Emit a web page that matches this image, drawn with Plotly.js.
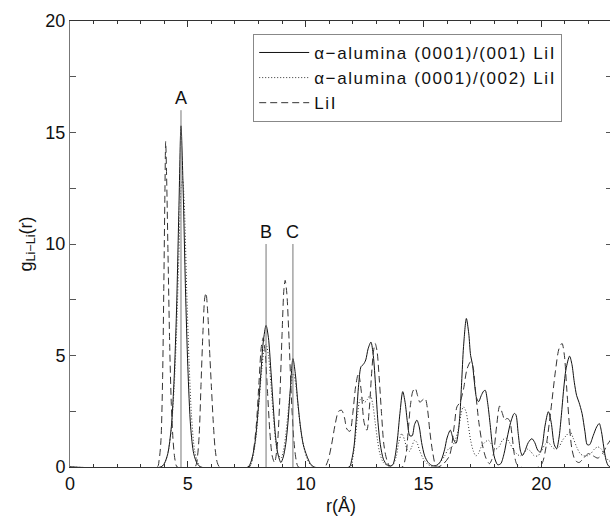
<!DOCTYPE html>
<html>
<head>
<meta charset="utf-8">
<script src="https://cdn.plot.ly/plotly-3.0.1.min.js"></script>
<style>
html,body{margin:0;padding:0;overflow:hidden;background:#fff;}
#chart{width:612px;height:519px;}
.legendtext{letter-spacing:1.6px;}
</style>
</head>
<body>
<div id="chart"></div>
<script>
// ---- data ----
var seriesNames = ['α−alumina (0001)/(001) LiI', 'α−alumina (0001)/(002) LiI', 'LiI'];

var r001 = [0, 3.85, 4.0, 4.15, 4.3, 4.42, 4.52, 4.62, 4.71, 4.80, 4.90, 5.0, 5.12, 5.25, 5.4, 5.55,
  7.55, 7.7, 7.85, 7.98, 8.1, 8.2, 8.32, 8.42, 8.52, 8.62, 8.72, 8.82, 8.95, 9.05, 9.15, 9.25, 9.35, 9.46, 9.56, 9.66, 9.78, 9.9, 10.05, 10.2, 10.35,
  11.85, 11.95, 12.05, 12.15, 12.25, 12.35, 12.45, 12.55, 12.65, 12.77, 12.87, 12.97, 13.07, 13.17, 13.3, 13.45, 13.6,
  13.7, 13.8, 13.9, 14.0, 14.12, 14.22, 14.32, 14.42, 14.52, 14.62, 14.72, 14.82, 14.92, 15.05, 15.2, 15.4, 15.6,
  15.75, 15.9, 16.0, 16.14, 16.25, 16.38, 16.47, 16.55, 16.62, 16.7, 16.82, 16.92, 17.0, 17.08, 17.16, 17.25, 17.34, 17.45, 17.55, 17.62, 17.72, 17.82, 17.92, 18.02, 18.15,
  18.28, 18.42, 18.55, 18.7, 18.85, 18.92, 19.02, 19.12, 19.2, 19.3, 19.45, 19.6, 19.72, 19.85, 19.95, 20.05, 20.15, 20.3, 20.42, 20.55, 20.65, 20.75, 20.85, 20.95, 21.05, 21.2, 21.3, 21.4, 21.5, 21.6, 21.73, 21.85, 21.95, 22.05, 22.2, 22.35, 22.46, 22.55, 22.65, 22.75, 22.85, 23];
var g001 = [0, 0, 0.15, 0.6, 1.8, 4.0, 7.0, 11.5, 15.3, 12.5, 8.0, 4.5, 1.8, 0.6, 0.15, 0,
  0, 0.3, 1.1, 2.5, 4.2, 5.6, 6.35, 5.8, 4.4, 2.8, 1.4, 0.6, 0.2, 0.45, 1.0, 2.0, 3.5, 4.86, 4.2, 3.0, 1.8, 1.0, 0.5, 0.15, 0,
  0, 0.3, 0.9, 2.2, 3.7, 4.5, 4.6, 4.8, 5.3, 5.6, 5.0, 3.6, 2.0, 1.0, 0.35, 0.1, 0.05,
  0.1, 0.5, 1.3, 2.4, 3.38, 2.9, 2.0, 1.4, 1.4, 1.9, 2.1, 1.8, 1.1, 0.5, 0.2, 0.05, 0.1,
  0.3, 0.8, 1.3, 1.65, 1.3, 1.06, 1.5, 2.4, 3.8, 5.4, 6.66, 6.0, 5.0, 4.6, 3.8, 3.1, 2.93, 3.2, 3.4, 3.44, 2.9, 2.0, 1.0, 0.4, 0.1,
  0.15, 0.6, 1.3, 2.0, 2.4, 2.35, 1.5, 0.7, 0.52, 0.7, 1.1, 1.27, 1.1, 0.75, 0.67, 1.0, 1.8, 2.48, 2.0, 1.0, 0.82, 1.3, 2.3, 3.5, 4.4, 4.97, 4.6, 3.8, 3.2, 2.9, 2.4, 1.6, 1.0, 1.0, 1.4, 1.8, 1.95, 1.6, 0.9, 0.3, 0.05, 0];

var r002 = [0, 3.85, 4.0, 4.15, 4.3, 4.42, 4.52, 4.62, 4.72, 4.78, 4.86, 4.95, 5.05, 5.15, 5.28, 5.42, 5.55,
  7.6, 7.75, 7.9, 8.02, 8.14, 8.24, 8.32, 8.42, 8.52, 8.62, 8.72, 8.82, 8.95, 9.05, 9.15, 9.25, 9.35, 9.48, 9.58, 9.68, 9.8, 9.92, 10.05, 10.2, 10.35,
  11.9, 12.0, 12.1, 12.2, 12.3, 12.4, 12.5, 12.6, 12.74, 12.85, 12.95, 13.05, 13.15, 13.3, 13.5,
  13.7, 13.85, 13.95, 14.08, 14.2, 14.3, 14.4, 14.5, 14.62, 14.72, 14.85, 15.0, 15.15, 15.3, 15.5,
  15.7, 15.9, 16.05, 16.2, 16.35, 16.5, 16.6, 16.69, 16.8, 16.9, 17.0, 17.12, 17.22, 17.33, 17.45, 17.6, 17.75, 17.9, 18.05, 18.2, 18.35, 18.5, 18.65, 18.8, 18.95,
  19.1, 19.25, 19.4, 19.55, 19.7, 19.85, 20.0, 20.15, 20.3, 20.45, 20.6, 20.75, 20.9, 21.05, 21.23, 21.35, 21.5, 21.65, 21.8, 21.95, 22.1, 22.25, 22.4, 22.55, 22.7, 22.85, 23];
var g002 = [0, 0, 0.15, 0.6, 1.7, 3.6, 6.0, 9.5, 12.6, 12.9, 11.5, 8.0, 4.8, 2.4, 0.8, 0.2, 0,
  0, 0.4, 1.4, 2.9, 4.4, 5.3, 5.5, 5.0, 3.8, 2.4, 1.2, 0.6, 0.4, 0.7, 1.4, 2.4, 3.4, 4.2, 3.7, 2.7, 1.6, 0.9, 0.4, 0.1, 0,
  0, 0.4, 1.2, 2.3, 3.0, 3.1, 2.9, 3.0, 3.23, 2.8, 2.0, 1.2, 0.6, 0.2, 0.05,
  0.1, 0.5, 1.1, 1.5, 1.2, 0.8, 0.7, 0.9, 1.2, 1.1, 0.7, 0.35, 0.15, 0.05, 0.05,
  0.2, 0.5, 0.8, 0.9, 1.2, 1.8, 2.4, 2.7, 2.5, 1.9, 1.2, 0.7, 0.5, 0.6, 0.9, 1.1, 1.2, 1.0, 0.8, 0.9, 1.2, 1.3, 1.1, 0.8, 0.6,
  0.5, 0.6, 0.8, 0.7, 0.5, 0.5, 0.7, 1.0, 1.1, 0.9, 0.8, 0.9, 1.2, 1.4, 1.58, 1.3, 0.9, 0.6, 0.5, 0.5, 0.6, 0.8, 0.9, 0.8, 0.5, 0.3, 0.2];

var rLiI = [0, 3.7, 3.78, 3.86, 3.93, 3.98, 4.03, 4.06, 4.1, 4.16, 4.23, 4.3, 4.38, 4.46, 4.55,
  5.3, 5.4, 5.48, 5.56, 5.64, 5.72, 5.77, 5.84, 5.92, 6.0, 6.08, 6.16, 6.25, 6.35,
  7.6, 7.75, 7.9, 8.02, 8.12, 8.2, 8.28, 8.38, 8.48, 8.58, 8.68, 8.8, 8.9, 9.0, 9.08, 9.13, 9.2, 9.3, 9.4, 9.5, 9.6, 9.7,
  10.8, 10.95, 11.1, 11.25, 11.4, 11.53, 11.65, 11.75, 11.88, 12.0, 12.12, 12.24, 12.36, 12.48, 12.6, 12.7, 12.8, 12.88, 12.95, 13.03, 13.12, 13.22, 13.32, 13.45, 13.6,
  14.1, 14.25, 14.35, 14.45, 14.55, 14.65, 14.75, 14.85, 14.95, 15.07, 15.17, 15.27, 15.4, 15.55,
  15.8, 16.1, 16.3, 16.42, 16.55, 16.7, 16.85, 17.0, 17.1, 17.2, 17.35, 17.5, 17.65, 17.8, 17.95, 18.1, 18.23, 18.35, 18.45, 18.54, 18.65, 18.75, 18.85, 18.95, 19.1,
  19.9, 20.05, 20.2, 20.4, 20.6, 20.75, 20.88, 20.98, 21.08, 21.2, 21.3, 21.44, 21.6, 21.8, 22.0, 22.2, 22.4, 22.6, 22.8, 23];
var gLiI = [0, 0, 0.3, 1.2, 4.0, 8.0, 12.5, 14.6, 13.0, 9.5, 5.5, 2.8, 1.1, 0.3, 0,
  0, 0.4, 1.4, 3.7, 6.0, 7.6, 7.8, 7.0, 5.3, 3.6, 2.0, 0.8, 0.2, 0,
  0, 0.5, 1.8, 3.8, 5.4, 5.8, 5.2, 3.4, 1.6, 0.5, 0.2, 1.0, 3.0, 6.0, 8.0, 8.37, 7.8, 5.6, 3.0, 1.2, 0.3, 0,
  0, 0.3, 1.0, 1.9, 2.5, 2.54, 2.2, 1.7, 1.6, 2.4, 3.6, 4.2, 3.4, 2.0, 1.65, 2.6, 4.2, 5.2, 5.54, 5.2, 4.0, 2.4, 1.0, 0.3, 0,
  0, 0.5, 1.6, 2.8, 3.4, 3.53, 3.2, 2.9, 3.0, 3.08, 2.6, 1.6, 0.6, 0,
  0.1, 0.5, 1.8, 2.7, 2.9, 3.5, 4.4, 4.72, 4.5, 3.5, 2.0, 1.0, 0.4, 0.15, 0.5, 1.8, 2.73, 2.4, 2.1, 2.18, 2.1, 1.5, 0.6, 0.15, 0,
  0, 0.2, 0.9, 2.5, 4.3, 5.3, 5.54, 5.0, 3.5, 1.8, 0.8, 0.3, 0.2, 0.4, 0.6, 0.5, 0.4, 0.6, 1.0, 1.3];

// peak markers
var peakLabels = ['A', 'B', 'C'];
var peakR = [4.71, 8.32, 9.46];
var peakTop = [16.0, 10.0, 10.0];

// ---- build ----
var font = 'Liberation Sans, Arial, Helvetica, sans-serif';
var markX = [], markY = [];
for (var i = 0; i < peakR.length; i++) {
  markX.push(peakR[i], peakR[i], null);
  markY.push(0, peakTop[i], null);
}

var traces = [
  {x: r001, y: g001, name: seriesNames[0], mode: 'lines',
   line: {color: '#111', width: 1, shape: 'spline', smoothing: 0.8}},
  {x: r002, y: g002, name: seriesNames[1], mode: 'lines',
   line: {color: '#333', width: 1, dash: '1px,2px', shape: 'spline', smoothing: 0.8}},
  {x: rLiI, y: gLiI, name: seriesNames[2], mode: 'lines',
   line: {color: '#333', width: 1, dash: '7px,4px', shape: 'spline', smoothing: 0.8}},
  {x: markX, y: markY, mode: 'lines', showlegend: false, hoverinfo: 'skip',
   line: {color: '#777', width: 1}}
];

var annotations = peakLabels.map(function (t, i) {
  return {x: peakR[i], y: peakTop[i], xref: 'x', yref: 'y', text: t, showarrow: false,
          yanchor: 'bottom', yshift: 0, font: {family: font, size: 18, color: '#111'}};
});

var layout = {
  width: 612, height: 519,
  margin: {l: 70, r: 0, t: 21, b: 52, pad: 0},
  paper_bgcolor: '#fff', plot_bgcolor: '#fff',
  showlegend: true,
  font: {family: font, size: 18, color: '#111'},
  xaxis: {
    range: [0, 23], tickvals: [0, 5, 10, 15, 20], ticks: 'inside', ticklen: 6, tickcolor: '#333',
    minor: {dtick: 1, ticks: 'inside', ticklen: 3, tickcolor: '#333'},
    showline: true, linecolor: '#333', linewidth: 1, mirror: 'ticks',
    showgrid: false, zeroline: false,
    tickfont: {family: font, size: 18, color: '#111'},
    title: {text: 'r(Å)', font: {family: font, size: 18, color: '#111'}, standoff: 6}
  },
  yaxis: {
    range: [0, 20], tickvals: [0, 5, 10, 15, 20], ticks: 'inside', ticklen: 6, tickcolor: '#555',
    minor: {dtick: 2.5, ticks: 'inside', ticklen: 6, tickcolor: '#555'},
    showline: true, linecolor: '#777', linewidth: 1, mirror: 'ticks',
    showgrid: false, zeroline: false,
    tickfont: {family: font, size: 18, color: '#111'},
    title: {text: 'g<sub>Li−Li</sub>(r)', font: {family: font, size: 18, color: '#111'}, standoff: 8}
  },
  legend: {
    x: 0.338, y: 0.971, xanchor: 'left', yanchor: 'top',
    bgcolor: '#fff', bordercolor: '#888', borderwidth: 1,
    font: {family: font, size: 17, color: '#111'},
    itemwidth: 50, tracegroupgap: 0
  },
  annotations: annotations
};

Plotly.newPlot('chart', traces, layout, {displayModeBar: false, staticPlot: true});
</script>
</body>
</html>
